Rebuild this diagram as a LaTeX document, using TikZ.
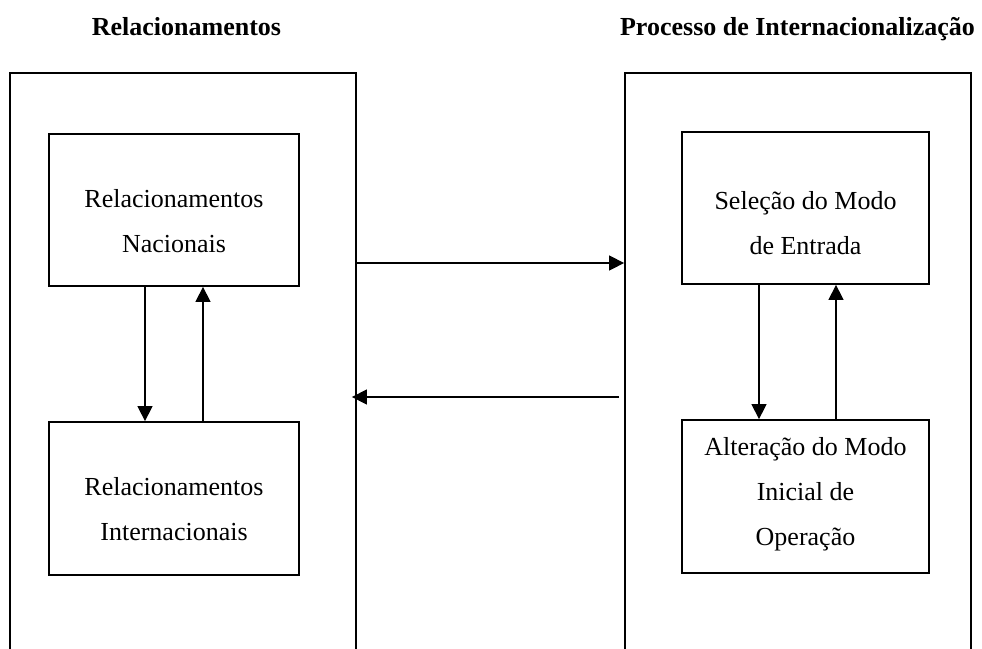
\documentclass[tikz,border=0pt]{standalone}
\usepackage{fontspec}
\setmainfont{Liberation Serif}
\usetikzlibrary{arrows.meta}
\usetikzlibrary{positioning}

\begin{document}
\begin{tikzpicture}[x=1pt,y=-1pt,>={Triangle[length=15pt,width=15pt]},
    outer box/.style={draw,line width=1.8pt,inner sep=0pt,minimum width=346pt,minimum height=640pt},
    inner box/.style={draw,line width=1.8pt,inner sep=0pt},
    box text/.style={align=center,inner sep=0pt,font=\fontsize{26pt}{45pt}\selectfont},
    title node/.style={anchor=base,font=\fontsize{26pt}{30pt}\selectfont\bfseries},
    flow/.style={->,line width=1.4pt}]
  \useasboundingbox (0,0) rectangle (982,648);
  \clip (0,0) rectangle (982,648);
    % titles
    \node[title node] (relTitle) at (186.5,35) {Relacionamentos};
    \node[title node] (procTitle) at (797.5,35) {Processo de Internacionaliza\c{c}\~ao};
    % outer boxes (open at the bottom)
    \node[outer box] (relOuter) at (183,393) {};
    \node[outer box] (procOuter) at (798,393) {};
    % inner boxes
    \node[inner box,minimum width=250pt,minimum height=152pt] (relNac) at (174,210) {};
    \node[inner box,minimum width=250pt,minimum height=153pt] (relInt) at (174,498.5) {};
    \node[inner box,minimum width=247pt,minimum height=152pt] (selModo) at (805.5,208) {};
    \node[inner box,minimum width=247pt,minimum height=153pt] (altModo) at (805.5,496.5) {};
    \node[box text] (relNacText) at ([yshift=-11pt]relNac.center) {Relacionamentos\\Nacionais};
    \node[box text] (relIntText) at ([yshift=-11pt]relInt.center) {Relacionamentos\\Internacionais};
    \node[box text] (selModoText) at ([yshift=-15pt]selModo.center) {Sele\c{c}\~ao do Modo\\de Entrada};
    \node[box text] (altModoText) at ([yshift=2pt]altModo.center) {Altera\c{c}\~ao do Modo\\Inicial de\\Opera\c{c}\~ao};
    \coordinate (topArrow) at (0,263);
    \coordinate (botArrow) at (0,397);
    \draw[flow] (relOuter.east |- topArrow) -- (procOuter.west |- topArrow);
    \draw[flow,shorten <=5pt,shorten >=-5pt] (procOuter.west |- botArrow) -- (relOuter.east |- botArrow);
    \draw[flow] ([xshift=-29pt]relNac.south) -- ([xshift=-29pt]relInt.north);
    \draw[flow] ([xshift=29pt]relInt.north) -- ([xshift=29pt]relNac.south);
    \draw[flow] ([xshift=-46.5pt]selModo.south) -- ([xshift=-46.5pt]altModo.north);
    \draw[flow] ([xshift=30.5pt]altModo.north) -- ([xshift=30.5pt]selModo.south);
\end{tikzpicture}
\end{document}
